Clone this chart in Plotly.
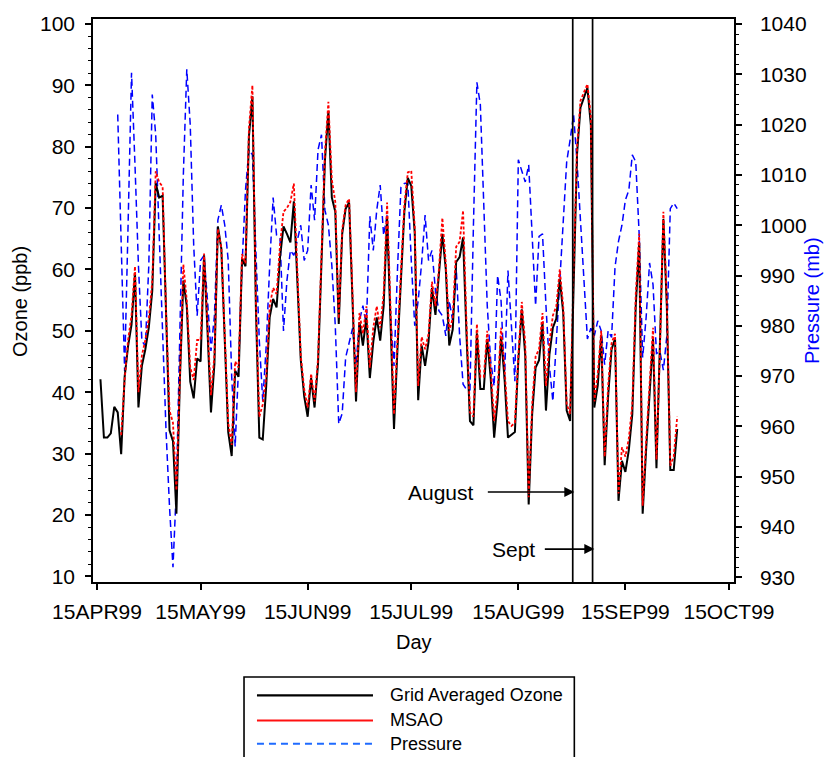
import pandas as pd
import plotly.graph_objects as go

# ---------------- data ----------------
dates = pd.date_range("1999-04-16", "1999-09-30", freq="D")

grid_ozone = [
    42.1, 32.6, 32.6, 33.3, 37.6, 36.7, 29.9, 42.5, 47.5, 51.0,
    59.4, 37.5, 44.3, 47.0, 50.5, 56.5, 74.1, 71.7, 72.0, 52.0,
    33.8, 32.0, 20.2, 42.0, 58.2, 54.0, 41.7, 39.0, 45.5, 45.0,
    62.3, 50.0, 36.7, 44.6, 67.0, 63.4, 48.2, 33.5, 29.6, 43.5,
    42.5, 61.7, 60.5, 81.7, 88.2, 54.0, 32.6, 32.3, 41.0, 52.2,
    55.2, 53.8, 62.0, 67.0, 65.8, 64.4, 71.1, 58.7, 45.3, 39.3,
    36.0, 42.3, 37.5, 44.6, 60.0, 77.7, 85.8, 71.7, 69.4, 51.1,
    65.8, 69.9, 70.9, 52.9, 38.5, 51.4, 47.6, 52.2, 42.3, 48.2,
    52.2, 48.4, 54.0, 68.5, 51.1, 34.0, 47.0, 58.7, 69.4, 74.9,
    73.6, 66.0, 38.7, 47.6, 44.3, 48.2, 57.0, 52.6, 58.7, 65.8,
    60.0, 47.6, 50.2, 61.2, 62.0, 65.2, 49.3, 35.3, 34.6, 49.6,
    40.5, 40.5, 48.7, 42.3, 32.6, 38.7, 49.0, 42.3, 32.6, 33.1,
    33.5, 45.2, 53.5, 46.0, 21.7, 36.4, 44.0, 45.2, 51.4, 37.0,
    46.1, 50.5, 52.0, 58.5, 52.9, 37.0, 35.3, 57.0, 78.8, 86.4,
    87.9, 89.6, 83.5, 37.5, 41.1, 49.3, 28.1, 39.3, 47.0, 48.7,
    22.3, 28.8, 27.0, 30.6, 36.4, 54.0, 64.4, 20.2, 30.6, 39.3,
    48.7, 27.6, 46.4, 68.2, 54.0, 27.3, 27.3, 34.0,
]

msao = [
    None, None, None, None, None, None, 33.0, 42.0, 48.5, 52.5,
    60.5, 40.0, 46.0, 48.5, 52.0, 58.0, 76.0, 74.2, 73.5, 53.0,
    37.0, 35.0, 24.0, 44.0, 60.8, 55.0, 44.0, 42.0, 48.5, 48.5,
    62.6, 51.0, 39.5, 46.0, 66.6, 63.5, 48.5, 35.0, 31.4, 45.0,
    44.0, 62.5, 61.0, 83.0, 90.0, 55.0, 36.0, 38.0, 42.5, 54.0,
    57.0, 56.0, 64.0, 69.4, 70.0, 71.0, 74.0, 60.0, 46.0, 40.5,
    37.5, 43.0, 38.5, 45.5, 61.0, 79.0, 87.3, 74.6, 71.0, 52.0,
    66.5, 70.5, 71.5, 54.0, 40.0, 52.9, 49.5, 54.0, 44.0, 50.5,
    54.0, 50.5, 56.0, 70.9, 52.0, 36.4, 48.5, 60.0, 70.5, 75.8,
    76.1, 67.0, 41.0, 49.0, 47.0, 49.5, 58.0, 54.0, 60.0, 68.4,
    61.0, 50.0, 52.0, 63.7, 64.5, 69.6, 51.0, 36.7, 36.0, 51.1,
    42.5, 42.5, 50.0, 44.0, 35.3, 40.5, 50.5, 44.0, 35.3, 34.5,
    35.0, 46.0, 54.7, 48.0, 22.9, 38.0, 45.8, 47.0, 52.9, 41.0,
    48.0, 52.5, 54.0, 60.0, 54.0, 38.0, 36.5, 60.0, 80.0, 87.5,
    89.0, 90.2, 85.0, 38.5, 43.0, 50.0, 29.5, 41.0, 48.0, 49.5,
    23.5, 31.0, 29.5, 32.5, 38.0, 56.0, 65.8, 21.5, 32.0, 41.0,
    50.5, 29.0, 47.0, 69.4, 55.0, 28.0, 29.5, 36.0,
]

pressure = [
    None, None, None, None, None, 1022.0, 995.0, 971.0, 1000.0, 1030.3,
    1012.0, 992.0, 977.0, 976.0, 992.0, 1026.0, 1018.0, 998.0, 977.0, 959.0,
    944.0, 932.0, 948.0, 977.0, 1010.0, 1031.0, 1020.0, 996.0, 982.0, 993.0,
    994.0, 985.0, 975.0, 982.0, 1001.0, 1004.0, 1000.0, 993.0, 970.0, 956.0,
    972.0, 992.0, 1007.0, 1015.0, 1014.0, 995.0, 977.0, 965.0, 976.0, 992.0,
    1005.5, 998.0, 997.4, 979.0, 989.0, 995.0, 994.0, 997.0, 1000.0, 993.0,
    995.0, 1008.0, 1001.0, 1015.0, 1018.0, 1003.0, 1000.0, 992.0, 980.0, 960.5,
    962.6, 973.7, 976.7, 979.5, 972.3, 981.0, 984.0, 980.0, 1001.8, 995.0,
    1003.0, 1008.0, 998.0, 1002.0, 982.0, 972.0, 991.0, 1007.5, 1008.3, 1008.4,
    993.0, 980.0, 985.0, 992.5, 1002.0, 993.0, 995.0, 987.0, 983.0, 982.0,
    978.0, 985.0, 981.0, 991.7, 978.0, 968.4, 967.3, 967.3, 1000.0, 1028.4,
    1024.0, 1005.0, 984.0, 973.0, 968.0, 990.0, 985.0, 969.4, 991.0, 980.0,
    969.0, 1013.0, 1011.0, 1008.6, 1012.0, 998.0, 984.0, 997.8, 998.3, 984.0,
    972.0, 965.0, 977.0, 990.0, 1002.0, 1012.6, 1017.0, 1022.0, 1012.6, 1001.0,
    989.5, 977.4, 979.5, 978.0, 981.0, 979.0, 972.3, 979.0, 977.7, 991.7,
    996.8, 1000.0, 1005.0, 1007.0, 1014.0, 1012.6, 998.0, 973.7, 981.6, 992.5,
    988.2, 974.5, 974.9, 971.2, 978.0, 1003.3, 1004.4, 1003.3,
]

tick_dates = ["1999-04-15", "1999-05-15", "1999-06-15", "1999-07-15",
              "1999-08-15", "1999-09-15", "1999-10-15"]
tick_labels = ["15APR99", "15MAY99", "15JUN99", "15JUL99",
               "15AUG99", "15SEP99", "15OCT99"]
marker_dates = ["1999-08-30 18:00", "1999-09-05 12:00"]
marker_labels = ["August", "Sept"]
legend_names = ["Grid Averaged Ozone", "MSAO", "Pressure"]

FONT = "Liberation Sans, Arial, Helvetica, sans-serif"

fig = go.Figure()

# pressure on base axis (drawn underneath)
fig.add_trace(go.Scatter(
    x=dates, y=pressure, mode="lines", name=legend_names[2],
    line=dict(color="#0000ff", width=1.5, dash="7px,4px"),
    yaxis="y", connectgaps=False, showlegend=False))
fig.add_trace(go.Scatter(
    x=dates, y=grid_ozone, mode="lines", name=legend_names[0],
    line=dict(color="black", width=2), yaxis="y2", showlegend=False))
fig.add_trace(go.Scatter(
    x=dates, y=msao, mode="lines", name=legend_names[1],
    line=dict(color="#ff0000", width=1.8, dash="3px,2px"),
    yaxis="y2", showlegend=False))

tickfont = dict(family=FONT, size=21, color="black")

fig.update_layout(
    width=831, height=757,
    margin=dict(l=93, r=97, t=17, b=175),
    paper_bgcolor="white", plot_bgcolor="white",
    showlegend=False,
    font=dict(family=FONT, color="black"),
    xaxis=dict(
        type="date",
        range=["1999-04-13 20:13", "1999-10-16 10:45"],
        tickmode="array", tickvals=tick_dates, ticktext=tick_labels,
        ticks="outside", ticklen=6, tickwidth=1.5, tickcolor="black",
        showline=True, linecolor="black", linewidth=1.5, mirror=True,
        showgrid=False, zeroline=False, tickfont=tickfont,
        ticklabelstandoff=4,
    ),
    yaxis=dict(
        range=[929.07, 1041.0], side="right", anchor="x",
        dtick=10, tick0=930,
        ticks="outside", ticklen=6, tickwidth=1.5, tickcolor="black",
        minor=dict(dtick=2, ticks="outside", ticklen=3.5, tickwidth=1.2,
                   tickcolor="black", showgrid=False),
        showline=True, linecolor="black", linewidth=1.5,
        showgrid=False, zeroline=False, tickfont=tickfont,
        ticklabelstandoff=14,
    ),
    yaxis2=dict(
        range=[9.07, 100.8], side="left", overlaying="y", anchor="x",
        dtick=10, tick0=10,
        ticks="outside", ticklen=6, tickwidth=1.5, tickcolor="black",
        minor=dict(dtick=2, ticks="outside", ticklen=3.5, tickwidth=1.2,
                   tickcolor="black", showgrid=False),
        showline=True, linecolor="black", linewidth=1.5,
        showgrid=False, zeroline=False, tickfont=tickfont,
        ticklabelstandoff=6,
    ),
)

# month marker vertical lines
for d in marker_dates:
    fig.add_shape(type="line", xref="x", yref="paper", x0=d, x1=d, y0=0, y1=1,
                  line=dict(color="black", width=1.7))

# month marker labels and arrows
label_pos = [(0.5975, 0.1598, 0.7509, -88), (0.6922, 0.0584, 0.7821, -51)]
for txt, (tx, ty, ax_tip, axoff) in zip(marker_labels, label_pos):
    fig.add_annotation(x=tx, y=ty, xref="paper", yref="paper", text=txt,
                       showarrow=False, xanchor="right", yanchor="middle",
                       font=dict(family=FONT, size=21, color="black"))
    fig.add_annotation(x=ax_tip, y=ty, xref="paper", yref="paper", text="",
                       showarrow=True, ax=axoff, ay=0, arrowhead=2,
                       arrowsize=1.25, arrowwidth=1.6, arrowcolor="black")

# axis titles
fig.add_annotation(x=-0.1139, y=0.499, xref="paper", yref="paper",
                   text="Ozone (ppb)", textangle=-90, showarrow=False,
                   xanchor="center", yanchor="middle",
                   font=dict(family=FONT, size=20, color="black"))
fig.add_annotation(x=1.1217, y=0.499, xref="paper", yref="paper",
                   text="Pressure (mb)", textangle=-90, showarrow=False,
                   xanchor="center", yanchor="middle",
                   font=dict(family=FONT, size=20, color="#0000ff"))
fig.add_annotation(x=0.5, y=-0.1062, xref="paper", yref="paper",
                   text="Day", showarrow=False,
                   xanchor="center", yanchor="middle",
                   font=dict(family=FONT, size=20, color="black"))

# legend box drawn below the plot
fig.add_shape(type="rect", xref="paper", yref="paper",
              x0=0.2356, x1=0.7509, y0=-0.40, y1=-0.1687,
              line=dict(color="black", width=1.6), fillcolor="white")
legend_rows = [-0.2012, -0.2460, -0.2873]
legend_styles = [dict(color="black", width=2.2),
                 dict(color="#ff1010", width=2.2),
                 dict(color="#1f6bff", width=2.0, dash="7px,5px")]
for name, ry, st in zip(legend_names, legend_rows, legend_styles):
    fig.add_shape(type="line", xref="paper", yref="paper",
                  x0=0.2558, x1=0.4368, y0=ry, y1=ry, line=st)
    fig.add_annotation(x=0.4602, y=ry, xref="paper", yref="paper", text=name,
                       showarrow=False, xanchor="left", yanchor="middle",
                       font=dict(family=FONT, size=18, color="black"))

fig.write_html("out.html")
